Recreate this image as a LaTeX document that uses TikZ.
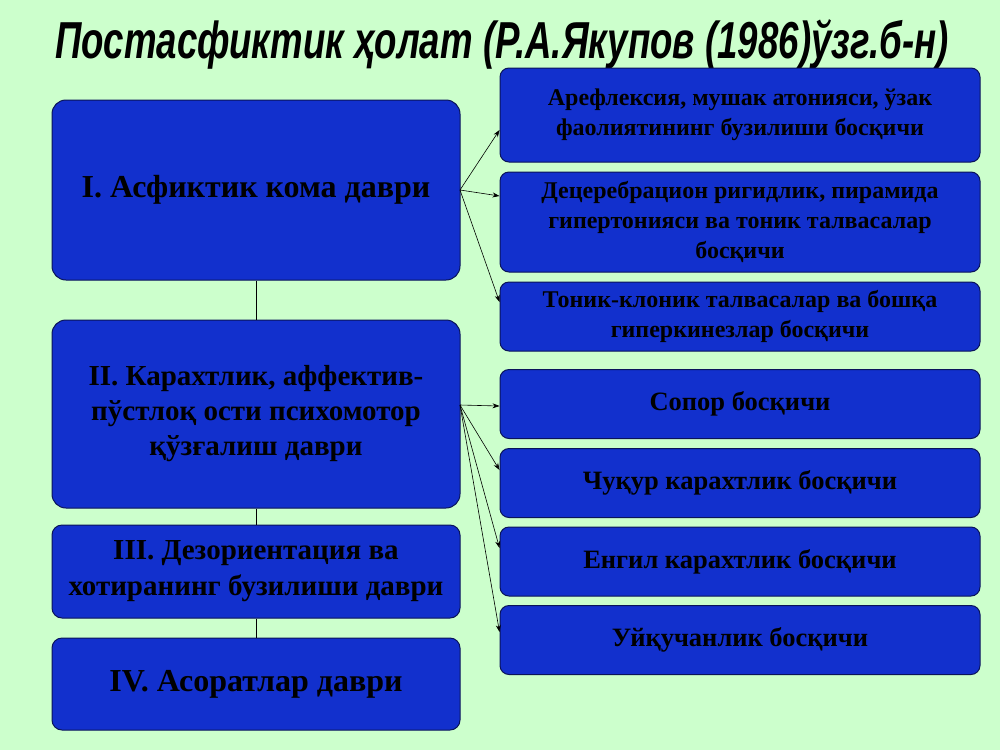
\documentclass[tikz,border=0pt]{standalone}
\usepackage{fontspec}
\setmainfont{Liberation Serif}
\newfontfamily\titlefont{Liberation Sans}
\usetikzlibrary{arrows.meta}
\definecolor{boxblue}{RGB}{18,48,205}
\definecolor{boxline}{RGB}{10,20,90}
\definecolor{bg}{RGB}{204,255,204}
\begin{document}
\begin{tikzpicture}[x=1pt,y=-1pt,
  box/.style={draw=boxline,line width=1pt,fill=boxblue,rounded corners=14pt,align=center,font=\bfseries,text=black,inner sep=2pt},
  lbox/.style={box,font=\fontsize{32}{38}\selectfont\bfseries},
  rbox/.style={box,rounded corners=9pt,font=\fontsize{26.5}{32}\selectfont\bfseries},
  arr/.style={-{Stealth[length=7pt,width=5pt]},line width=0.6pt}]
\fill[bg] (0,0) rectangle (1000,750);
\node[font=\titlefont\bfseries\itshape\fontsize{52}{56}\selectfont,xscale=0.705] (t) at (502,44) {Постасфиктик ҳолат (Р.А.Якупов (1986)ўзг.б-н)};
% left boxes
\node[lbox,minimum width=408pt,minimum height=180pt] (a) at (256,190) {I. Асфиктик кома даври};
\node[lbox,minimum width=408pt,minimum height=188pt,font=\fontsize{29}{35}\selectfont\bfseries] (b) at (256,414) {II. Карахтлик, аффектив-\\пўстлоқ ости психомотор\\қўзғалиш даври};
\node[lbox,minimum width=408pt,minimum height=93pt,rounded corners=10pt,font=\fontsize{29}{36}\selectfont\bfseries] (c) at (256,571.5) {III. Дезориентация ва\\хотиранинг бузилиши даври};
\node[lbox,minimum width=408pt,minimum height=92pt,rounded corners=10pt] (d) at (256,684) {IV. Асоратлар даври};
\draw (a.south) -- (b.north) (b.south) -- (c.north) (c.south) -- (d.north);
% right boxes
\node[rbox,minimum width=480pt,minimum height=94pt,font=\fontsize{24}{30}\selectfont\bfseries] (r1) at (740,115) {Арефлексия, мушак атонияси, ўзак\\фаолиятининг бузилиши босқичи};
\node[rbox,minimum width=480pt,minimum height=100pt,font=\fontsize{24}{30}\selectfont\bfseries] (r2) at (740,222) {Децеребрацион ригидлик, пирамида\\гипертонияси ва тоник талвасалар\\босқичи};
\node[rbox,minimum width=480pt,minimum height=69pt,font=\fontsize{24}{30}\selectfont\bfseries] (r3) at (740,316.5) {Тоник-клоник талвасалар ва бошқа\\гиперкинезлар босқичи};
\node[rbox,minimum width=480pt,minimum height=69pt] (r4) at (740,404) {Сопор босқичи};
\node[rbox,minimum width=480pt,minimum height=69pt] (r5) at (740,483) {Чуқур карахтлик босқичи};
\node[rbox,minimum width=480pt,minimum height=69pt] (r6) at (740,561.5) {Енгил карахтлик босқичи};
\node[rbox,minimum width=480pt,minimum height=69pt] (r7) at (740,640) {Уйқучанлик босқичи};
% arrows
\coordinate (ao) at (460,190);
\coordinate (bo) at (460,405);
\draw[arr] (ao) -- (r1.west |- 0,130) ;
\draw[arr] (ao) -- (r2.west |- 0,196);
\draw[arr] (ao) -- (r3.west |- 0,302);
\draw[arr] (bo) -- (r4.west |- 0,406);
\draw[arr] (bo) -- (r5.west |- 0,470);
\draw[arr] (bo) -- (r6.west |- 0,548);
\draw[arr] (bo) -- (r7.west |- 0,632);
\end{tikzpicture}
\end{document}
